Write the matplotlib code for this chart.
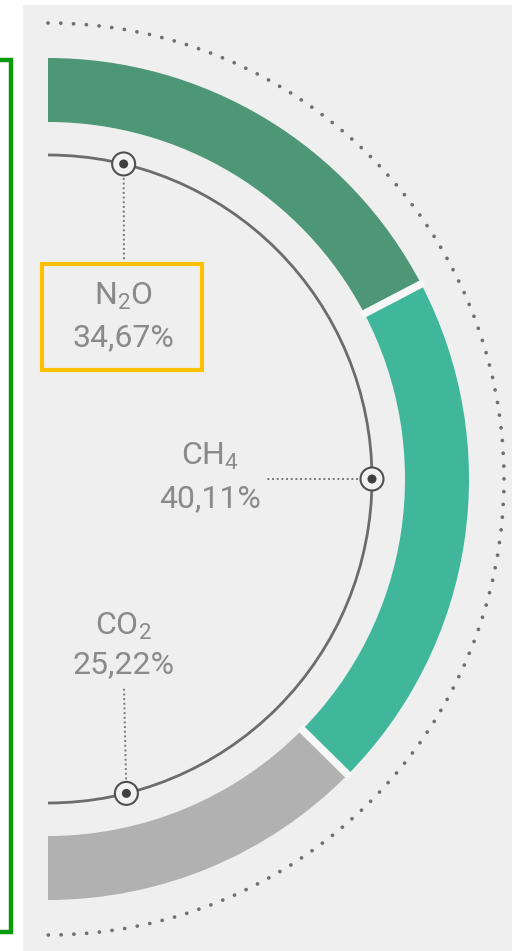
import matplotlib
matplotlib.use("Agg")
import matplotlib.pyplot as plt
from matplotlib.patches import Wedge, Arc, Circle, Rectangle
import numpy as np

# Gas shares (percent of total emissions)
gases = ["N$_2$O", "CH$_4$", "CO$_2$"]
shares = [34.67, 40.11, 25.22]
share_labels = ["34,67%", "40,11%", "25,22%"]
colors = ["#4d9777", "#40b79b", "#b1b1b1"]

plt.rcParams["font.family"] = ["Roboto", "DejaVu Sans"]
plt.rcParams["mathtext.fontset"] = "custom"
plt.rcParams["mathtext.rm"] = "Roboto"
plt.rcParams["mathtext.it"] = "Roboto"
plt.rcParams["mathtext.default"] = "rm"

W, H = 512, 951
fig = plt.figure(figsize=(W / 100, H / 100), dpi=100)
ax = fig.add_axes([0, 0, 1, 1])
ax.set_xlim(0, W)
ax.set_ylim(H, 0)
ax.axis("off")
fig.patch.set_facecolor("white")

# paper-like backdrop
ax.add_patch(Rectangle((23, 5), W - 23, H - 5, facecolor="#efefef", edgecolor="none", zorder=0))

cx, cy = 48, 479
r_out, r_in = 421, 357
r_line = 324
r_dots = 456

# y axis points down, so angles run clockwise on screen: -90 is the top
start = -90.0
bounds = []
for share, col in zip(shares, colors):
    span = 180.0 * share / 100.0
    ax.add_patch(Wedge((cx, cy), r_out, start, start + span, width=r_out - r_in,
                       facecolor=col, edgecolor="none", zorder=2))
    start += span
    bounds.append(start)

# white gaps between segments
for b in bounds[:-1]:
    t = np.deg2rad(b)
    ax.plot([cx + (r_in - 3) * np.cos(t), cx + (r_out + 3) * np.cos(t)],
            [cy + (r_in - 3) * np.sin(t), cy + (r_out + 3) * np.sin(t)],
            color="#f7f7f7", lw=5.5, solid_capstyle="butt", zorder=3)

# inner guide arc and outer dotted arc
ax.add_patch(Arc((cx, cy), 2 * r_line, 2 * r_line, theta1=-90, theta2=90,
                 color="#6c6c6c", lw=2.0, zorder=3))
ax.add_patch(Arc((cx, cy), 2 * r_dots, 2 * r_dots, theta1=-90, theta2=90,
                 color="#6e6e6e", lw=2.7, linestyle=(0, (0.01, 3.4)),
                 capstyle="round", zorder=1))

# anchor markers on the guide arc, with leader lines to the labels
marker_angles = [-76.5, 0.0, 76.0]
leader_ends = [(124, 266), (266, 479), (124, 688)]
label_x = [123, 210, 123]
label_base = [(305, 346), (465, 507), (635, 673)]

for ang, end, lx, (b1, b2), gas, lab in zip(marker_angles, leader_ends, label_x,
                                            label_base, gases, share_labels):
    t = np.deg2rad(ang)
    mx, my = cx + r_line * np.cos(t), cy + r_line * np.sin(t)
    ax.plot([mx, end[0]], [my, end[1]], color="#777777", lw=1.4,
            linestyle=(0, (1, 1.4)), zorder=3)
    ax.add_patch(Circle((mx, my), 11.5, facecolor="#f2f2f2", edgecolor="#505050",
                        lw=1.5, zorder=4))
    ax.add_patch(Circle((mx, my), 4.5, facecolor="#404040", edgecolor="none", zorder=5))
    ax.text(lx, b1, gas, ha="center", va="baseline", fontsize=23, color="#8a8a8a", zorder=5)
    ax.text(lx, b2, lab, ha="center", va="baseline", fontsize=23, color="#8a8a8a", zorder=5)

# highlight frame around the N2O label
ax.add_patch(Rectangle((42, 264), 160, 106, facecolor="none", edgecolor="#ffc000",
                       lw=3, zorder=6))
# bracket along the left edge
ax.plot([-5, 11, 11, -5], [60, 60, 932, 932], color="#0a9a0a", lw=3.2,
        solid_joinstyle="miter", zorder=6)

fig.savefig("out.png", dpi=100, facecolor="white")
